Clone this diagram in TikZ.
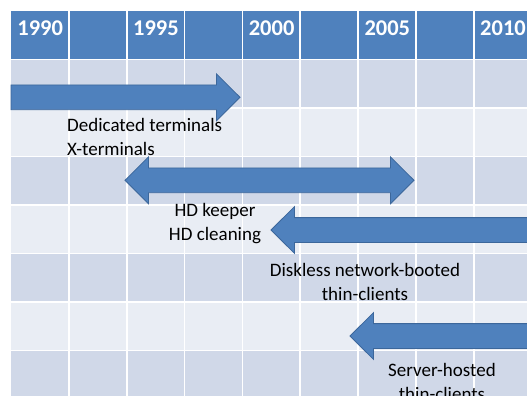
\documentclass[tikz,border=0pt]{standalone}
\usepackage{fontspec}
\setmainfont{Carlito}
\usetikzlibrary{calc,positioning}

\definecolor{headblue}{HTML}{4F81BD}
\definecolor{rowdark}{HTML}{D0D8E8}
\definecolor{rowlight}{HTML}{E9EDF4}
\definecolor{arrowline}{HTML}{3C679B}

\tikzset{
    yearlabel/.style={anchor=base west,inner sep=0pt,text=white,font=\fontsize{22.5bp}{26bp}\selectfont\bfseries},
    eralabel/.style={anchor=base,inner sep=0pt,text=black,align=center,font=\fontsize{19bp}{24bp}\selectfont},
    blockarrow/.style={fill=headblue,draw=arrowline,line width=0.8bp,line join=miter},
    gridline/.style={draw=white,line width=1.6bp}
}

\begin{document}
\begin{tikzpicture}[x=1bp,y=-1bp]
    \useasboundingbox (0,0) rectangle (527,395);
    \clip (0,0) rectangle (527,395);
    % Origin and cell sizes of the timeline table
    \pgfmathsetmacro{\xo}{11};
    \pgfmathsetmacro{\yo}{11};
    \pgfmathsetmacro{\cw}{57.85};
    \pgfmathsetmacro{\rh}{48.5};
    % Half heights of arrow heads and shafts, length of heads
    \pgfmathsetmacro{\hh}{23.4};
    \pgfmathsetmacro{\sh}{12.4};
    \pgfmathsetmacro{\hl}{23.5};

    % Fill header and banded rows
    \fill[headblue] (\xo,\yo) rectangle (560,\yo+\rh);
    \foreach \r in {1,3,5,7}%
    {%
        \fill[rowdark] (\xo,\yo+\r*\rh) rectangle (560,\yo+\r*\rh+\rh);
    }
    \foreach \r in {2,4,6}%
    {%
        \fill[rowlight] (\xo,\yo+\r*\rh) rectangle (560,\yo+\r*\rh+\rh);
    }

    % White cell borders
    \foreach \c in {1,...,9}%
    {%
        \draw[gridline] (\xo+\c*\cw,\yo) -- (\xo+\c*\cw,420);
    }
    \foreach \r in {1,...,7}%
    {%
        \draw[gridline] (\xo,\yo+\r*\rh) -- (560,\yo+\r*\rh);
    }

    % Years in every second header cell
    \foreach \yr [count=\k from 0] in {1990,1995,2000,2005,2010}%
    {%
        \node[yearlabel] (y\yr) at (\xo+2*\k*\cw+6.2,35) {\yr};
    }

    % Dedicated terminals, up to 2000 (base is the last line)
    \draw[blockarrow] (\xo,97.3-\sh) -- (240-\hl,97.3-\sh) -- (240-\hl,97.3-\hh) -- (240,97.3)
        -- (240-\hl,97.3+\hh) -- (240-\hl,97.3+\sh) -- (\xo,97.3+\sh) -- cycle;
    \node[eralabel,anchor=base west,align=left] (dedicated) at (67,155.7) {Dedicated terminals\\X-terminals};

    % HD keeper, both ways
    \draw[blockarrow] (125,180.3) -- (125+\hl,180.3-\hh) -- (125+\hl,180.3-\sh) -- (414-\hl,180.3-\sh)
        -- (414-\hl,180.3-\hh) -- (414,180.3) -- (414-\hl,180.3+\hh) -- (414-\hl,180.3+\sh)
        -- (125+\hl,180.3+\sh) -- (125+\hl,180.3+\hh) -- cycle;
    \node[eralabel] (hdkeeper) at (215,240) {HD keeper\\HD cleaning};

    % Diskless thin-clients, from the right
    \draw[blockarrow] (271,230) -- (271+\hl,230-\hh) -- (271+\hl,230-\sh) -- (545,230-\sh)
        -- (545,230+\sh) -- (271+\hl,230+\sh) -- (271+\hl,230+\hh) -- cycle;
    \node[eralabel] (diskless) at (365,300) {Diskless network-booted\\thin-clients};

    % Server-hosted thin-clients, from the right
    \draw[blockarrow] (350,336) -- (350+\hl,336-\hh) -- (350+\hl,336-\sh) -- (545,336-\sh)
        -- (545,336+\sh) -- (350+\hl,336+\sh) -- (350+\hl,336+\hh) -- cycle;
    \node[eralabel] (serverhosted) at (442,400.7) {Server-hosted\\thin-clients};
\end{tikzpicture}
\end{document}
